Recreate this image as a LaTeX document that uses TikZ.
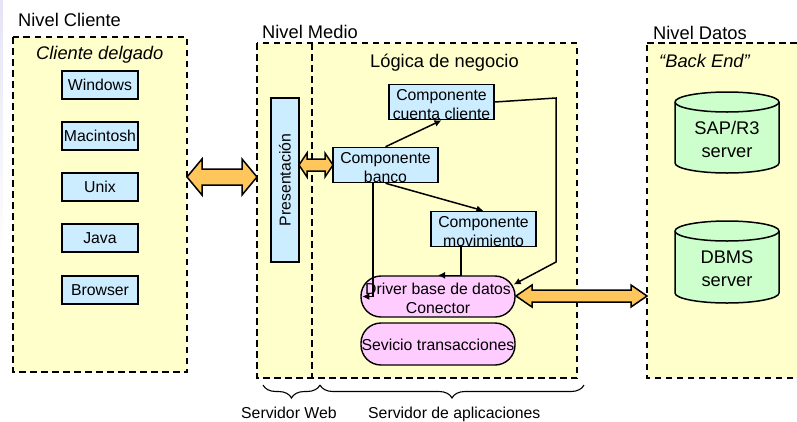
\documentclass[tikz,border=0pt]{standalone}
\usepackage{fontspec}
\setmainfont{Liberation Sans}
\usetikzlibrary{arrows.meta,decorations.pathreplacing,calc}
\definecolor{panel}{HTML}{FFFFCC}
\definecolor{sky}{HTML}{CCECFF}
\definecolor{pinkb}{HTML}{FFCCFF}
\definecolor{mint}{HTML}{CCFFCC}
\definecolor{orangeb}{HTML}{FFC65C}
\definecolor{lav}{HTML}{E4E4F6}
\tikzset{
 x=1pt,y=-1pt,
 panelbox/.style={draw=black,fill=panel,line width=1.5pt,dash pattern=on 6.5pt off 4.5pt},
 bluebox/.style={draw=black,fill=sky,line width=1.6pt,rectangle,inner sep=0pt,align=center,font=\fontsize{15.8}{19}\selectfont},
 twoline/.style={text height=34.7pt,text depth=0.2pt},
 pill/.style={draw=black,fill=pinkb,line width=1.4pt,rounded corners=20pt,inner sep=0pt,align=center,font=\fontsize{15.8}{19}\selectfont},
 lab/.style={inner sep=0pt,anchor=base west,font=\fontsize{18.3}{22}\selectfont},
 sublab/.style={inner sep=0pt,anchor=base west,font=\fontsize{15.8}{19}\selectfont},
 conn/.style={draw=black,line width=1.5pt,-{Latex[length=7pt,width=7pt]}},
 dbtext/.style={align=center,inner sep=0pt,font=\fontsize{18.3}{23}\selectfont,text height=39.4pt,text depth=0.2pt},
 dbshape/.style={draw=black,fill=mint,line width=1.5pt},
 dbltip/.style={draw=black,fill=orangeb,line width=1.5pt},
 brace/.style={draw=black,line width=1.1pt,decorate,decoration={brace,mirror,amplitude=13pt}}
}
\newcommand{\dblarrow}[6]{% x1 x2 yc halfbody halfhead headlen
 \filldraw[dbltip] (#1,#3) -- (#1+#6,#3-#5) -- (#1+#6,#3-#4) -- (#2-#6,#3-#4) -- (#2-#6,#3-#5) -- (#2,#3) -- (#2-#6,#3+#5) -- (#2-#6,#3+#4) -- (#1+#6,#3+#4) -- (#1+#6,#3+#5) -- cycle;}
\newcommand{\dbcyl}[5]{% name cx ytop ybottom text
 \filldraw[dbshape] (#2-52,#3+10) -- (#2-52,#4-10)
   .. controls (#2-52,#4-4.5) and (#2-28.7,#4) .. (#2,#4)
   .. controls (#2+28.7,#4) and (#2+52,#4-4.5) .. (#2+52,#4-10)
   -- (#2+52,#3+10)
   .. controls (#2+52,#3+4.5) and (#2+28.7,#3) .. (#2,#3)
   .. controls (#2-28.7,#3) and (#2-52,#3+4.5) .. (#2-52,#3+10) -- cycle;
 \draw[dbshape,fill=none] (#2-52,#3+10)
   .. controls (#2-52,#3+15.5) and (#2-28.7,#3+20) .. (#2,#3+20)
   .. controls (#2+28.7,#3+20) and (#2+52,#3+15.5) .. (#2+52,#3+10);
 \node[dbtext] (#1) at (#2,{(#3+#4)/2+5}) {#5};}
\begin{document}
\begin{tikzpicture}
\useasboundingbox (0,0) rectangle (797,421);
\fill[white] (0,0) rectangle (797,421);
\shade[top color=lav,bottom color=white] (0,0) rectangle (2.5,260);
% panels
\path[panelbox] (13,37) rectangle (187,372);
\path[panelbox] (257,43) rectangle (577,378);
\draw[panelbox,fill=none] (312,43) -- (312,378);
\path[panelbox] (647,43) -- (800,43) -- (800,378) -- (647,378) -- cycle;
% titles
\node[lab] (t1) at (18,26) {Nivel Cliente};
\node[lab] (t2) at (262,38) {Nivel Medio};
\node[lab] (t3) at (653,39) {Nivel Datos};
\node[lab,font=\fontsize{18.3}{22}\selectfont\itshape] (t4) at (36,59) {Cliente delgado};
\node[lab] (t5) at (370,67) {Lógica de negocio};
\node[lab,font=\fontsize{18.3}{22}\selectfont\itshape] (t6) at (659,67) {“Back End”};
% client boxes
\node[bluebox,minimum width=76pt,minimum height=28pt] (win) at (100,85) {Windows};
\node[bluebox,minimum width=76pt,minimum height=28pt] (mac) at (100,136) {Macintosh};
\node[bluebox,minimum width=76pt,minimum height=28pt] (unix) at (100,187) {Unix};
\node[bluebox,minimum width=76pt,minimum height=28pt] (java) at (100,238) {Java};
\node[bluebox,minimum width=76pt,minimum height=28pt] (brow) at (100,290) {Browser};
% presentacion
\node[bluebox,minimum width=28pt,minimum height=164pt] (pres) at (285,180) {};
\node[rotate=90,inner sep=0pt,font=\fontsize{15.8}{19}\selectfont] (prestxt) at (285,180) {Presentación};
% component boxes
\node[bluebox,twoline,minimum width=105pt,minimum height=35pt] (cuenta) at (441.5,102) {Componente\\cuenta cliente};
\node[bluebox,twoline,minimum width=105pt,minimum height=34pt] (banco) at (385.5,165) {Componente\\banco};
\node[bluebox,twoline,minimum width=105pt,minimum height=34pt] (mov) at (483.5,229) {Componente\\movimiento};
% pills
\node[pill,twoline,minimum width=154pt,minimum height=41pt] (driver) at (438,296.5) {Driver base de datos\\Conector};
\node[pill,text height=16pt,text depth=3.3pt,minimum width=154pt,minimum height=42pt] (trans) at (438,344) {Sevicio transacciones};
% cylinders
\dbcyl{sap}{727}{92}{173}{SAP/R3\\server}
\dbcyl{dbms}{727}{221}{303}{DBMS\\server}
% connectors
\draw[conn] (banco.north) -- (cuenta.south);
\draw[conn] (banco.south) -- (mov.north);
\coordinate (bk) at ($(banco.south)+(-12.5,0)$);
\coordinate (dk) at ($(driver.west)+(2,0)$);
\draw[conn] (bk) |- (dk);
\coordinate (c1) at (556,98);
\coordinate (c2) at (556,262);
\coordinate (c3) at ($(driver.east)+(-2,-12)$);
\draw[conn] (cuenta.east) -- (c1) -- (c2) -- (c3);
\coordinate (m1) at ($(mov.south)+(-22.5,0)$);
\draw[conn] (m1) |- (driver.north);
% double arrows
\dblarrow{187}{257}{177}{8}{18}{15}
\dblarrow{299}{333}{165}{6}{12}{8}
\dblarrow{516}{647}{296}{6}{11}{16}
% braces
\coordinate (b1) at (263,385); \coordinate (b2) at (320,385); \coordinate (b3) at (584,385);
\draw[brace] (b1) -- (b2);
\draw[brace] (b2) -- (b3);
\node[sublab] (s1) at (241,418) {Servidor Web};
\node[sublab] (s2) at (368,418) {Servidor de aplicaciones};
\end{tikzpicture}
\end{document}
